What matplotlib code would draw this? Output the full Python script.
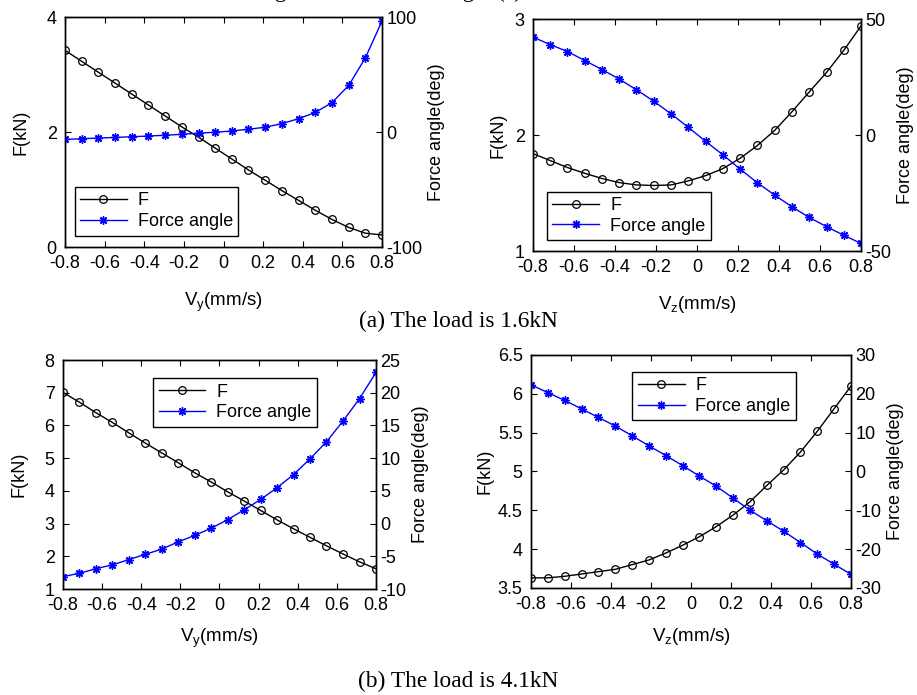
import matplotlib.pyplot as plt

plt.rcParams['font.family'] = 'Liberation Sans'
plt.rcParams['mathtext.fontset'] = 'custom'
plt.rcParams['mathtext.rm'] = 'Liberation Sans'
plt.rcParams['mathtext.it'] = 'Liberation Sans'

# velocity samples (mm/s), same for every panel
v = [-0.8, -0.716, -0.632, -0.547, -0.463, -0.379, -0.295, -0.211, -0.126, -0.042,
     0.042, 0.126, 0.211, 0.295, 0.379, 0.463, 0.547, 0.632, 0.716, 0.8]

# (a) load 1.6kN, Vy
f_a_vy = [3.42, 3.23, 3.04, 2.85, 2.66, 2.47, 2.28, 2.09, 1.91, 1.72,
          1.53, 1.34, 1.16, 0.98, 0.81, 0.64, 0.48, 0.34, 0.24, 0.21]
ang_a_vy = [-6.5, -5.8, -5.3, -4.7, -4.1, -3.5, -2.8, -2.0, -1.0, -0.2,
            0.9, 2.4, 4.2, 7.3, 11.6, 17.0, 25.5, 40.5, 64.5, 96.5]

# (a) load 1.6kN, Vz
f_a_vz = [1.84, 1.78, 1.72, 1.67, 1.625, 1.59, 1.57, 1.565, 1.57, 1.605,
          1.65, 1.71, 1.80, 1.91, 2.04, 2.20, 2.37, 2.54, 2.73, 2.94]
ang_a_vz = [42.2, 39.0, 36.0, 32.1, 28.2, 24.1, 19.5, 14.6, 9.1, 3.3,
            -2.7, -8.5, -14.7, -20.6, -25.9, -30.9, -35.5, -39.5, -43.2, -46.7]

# (b) load 4.1kN, Vy
f_b_vy = [7.01, 6.71, 6.39, 6.09, 5.77, 5.46, 5.16, 4.86, 4.55, 4.27,
          3.97, 3.69, 3.40, 3.11, 2.84, 2.58, 2.32, 2.07, 1.83, 1.62]
ang_b_vy = [-8.1, -7.6, -6.9, -6.3, -5.5, -4.7, -3.9, -2.8, -1.8, -0.7,
            0.6, 2.1, 3.7, 5.5, 7.5, 9.9, 12.5, 15.7, 19.1, 23.1]

# (b) load 4.1kN, Vz
f_b_vz = [3.63, 3.63, 3.65, 3.68, 3.71, 3.74, 3.80, 3.86, 3.95, 4.05,
          4.16, 4.29, 4.44, 4.61, 4.82, 5.02, 5.25, 5.52, 5.81, 6.10]
ang_b_vz = [22.3, 20.3, 18.3, 16.1, 13.9, 11.7, 9.2, 6.6, 4.1, 1.5,
            -1.2, -3.8, -6.9, -10.0, -12.7, -15.4, -18.3, -21.3, -23.9, -26.5]

xticks = [-0.8, -0.6, -0.4, -0.2, 0, 0.2, 0.4, 0.6, 0.8]
xticklabels = ['-0.8', '-0.6', '-0.4', '-0.2', '0', '0.2', '0.4', '0.6', '0.8']

FS = 13
ASTERISK = (8, 2, 0)   # matlab-like '*' marker


def panel(fig, rect, f, ang, xlab, fticks, flabels, aticks, alabels,
          leg_loc, leg_anchor, ypad, xpad):
    ax = fig.add_axes(rect)
    ax2 = ax.twinx()
    l1, = ax.plot(v, f, color='black', lw=1, marker='o', ms=5.5,
                  mfc='none', mec='black', mew=0.9, label='F')
    l2, = ax2.plot(v, ang, color=(0, 0, 1), lw=1, marker=ASTERISK, ms=6,
                   mec=(0, 0, 1), mew=1.0, label='Force angle')
    ax.set_xlim(-0.8, 0.8)
    ax.set_xticks(xticks)
    ax.set_xticklabels(xticklabels)
    ax.set_ylim(fticks[0], fticks[-1])
    ax.set_yticks(fticks)
    ax.set_yticklabels(flabels)
    ax2.set_ylim(aticks[0], aticks[-1])
    ax2.set_yticks(aticks)
    ax2.set_yticklabels(alabels)
    ax.tick_params(direction='in', top=True, right=False, labelsize=FS, length=4)
    ax.tick_params(axis='x', pad=6)
    ax.tick_params(axis='y', pad=6)
    ax2.tick_params(direction='in', labelsize=FS, length=4, pad=3)
    for a in (ax, ax2):
        for s in a.spines.values():
            s.set_linewidth(1)
    ax.set_xlabel(xlab, fontsize=13.5, labelpad=xpad)
    ax.set_ylabel('F(kN)', fontsize=13, labelpad=ypad)
    ax2.set_ylabel('Force angle(deg)', fontsize=13)
    leg = ax2.legend([l1, l2], ['F', 'Force angle'], loc=leg_loc, bbox_to_anchor=leg_anchor,
                     fontsize=13, fancybox=False, framealpha=1, edgecolor='black',
                     handlelength=2.6, borderpad=0.3, labelspacing=0.2,
                     handletextpad=0.6, borderaxespad=0)
    leg.get_frame().set_linewidth(1)
    return ax, ax2


fig = plt.figure(figsize=(9.17, 6.95), dpi=100)

panel(fig, [0.0709, 0.6446, 0.3457, 0.3309], f_a_vy, ang_a_vy, 'V$_\\mathrm{y}$(mm/s)',
      [0, 2, 4], ['0', '2', '4'], [-100, 0, 100], ['-100', '0', '100'],
      'lower left', (0.03, 0.05), 12, 13)
panel(fig, [0.5812, 0.6388, 0.3577, 0.3338], f_a_vz, ang_a_vz, 'V$_\\mathrm{z}$(mm/s)',
      [1, 2, 3], ['1', '2', '3'], [-50, 0, 50], ['-50', '0', '50'],
      'lower left', (0.043, 0.047), 6, 13)
panel(fig, [0.0687, 0.1525, 0.3413, 0.3295], f_b_vy, ang_b_vy, 'V$_\\mathrm{y}$(mm/s)',
      [1, 2, 3, 4, 5, 6, 7, 8], ['1', '2', '3', '4', '5', '6', '7', '8'],
      [-10, -5, 0, 5, 10, 15, 20, 25], ['-10', '-5', '0', '5', '10', '15', '20', '25'],
      'upper left', (0.288, 0.921), 12, 9)
panel(fig, [0.5791, 0.1540, 0.3490, 0.3353], f_b_vz, ang_b_vz, 'V$_\\mathrm{z}$(mm/s)',
      [3.5, 4, 4.5, 5, 5.5, 6, 6.5], ['3.5', '4', '4.5', '5', '5.5', '6', '6.5'],
      [-30, -20, -10, 0, 10, 20, 30], ['-30', '-20', '-10', '0', '10', '20', '30'],
      'upper left', (0.316, 0.927), 3, 9)

# captions (serif, like the paper)
fig.text(0.5, 1 - 321 / 695, '(a) The load is 1.6kN', family='Liberation Serif',
         fontsize=16.8, ha='center', va='center')
fig.text(0.5, 1 - 681 / 695, '(b) The load is 4.1kN', family='Liberation Serif',
         fontsize=16.8, ha='center', va='center')
# heading cut off at the top edge, only descenders show
fig.text(522 / 917, 1 + 3 / 695, 'Resulting force and force angle (\u00b0)',
         family='Liberation Serif', fontsize=16.8, ha='right', va='baseline')

fig.savefig('out.png', dpi=100)
